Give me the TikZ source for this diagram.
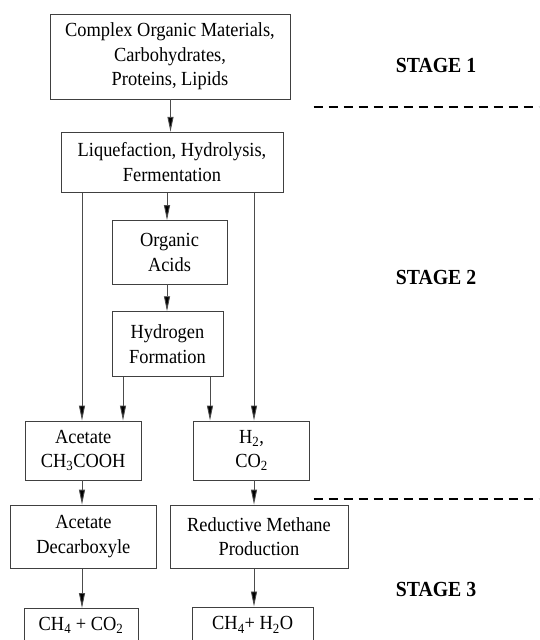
\documentclass[tikz,border=0pt]{standalone}
\usepackage{fontspec}
\setmainfont{Liberation Serif}[FakeStretch=0.92]
\usetikzlibrary{arrows.meta}
\tikzset{
  box/.style={draw=black!75, line width=0.9pt, align=center, inner sep=0pt,
    font=\fontsize{20}{24.5}\selectfont},
  arr/.style={draw=black!70, line width=0.9pt, -{Triangle[length=15pt,width=6pt,fill=black]}},
  sep/.style={draw=black, line width=1.8pt, dash pattern=on 9.5pt off 5.5pt},
  stagelbl/.style={font=\fontsize{21.5}{24}\selectfont\bfseries, inner sep=0pt}
}
\begin{document}
\begin{tikzpicture}[x=1pt,y=-1pt]
\useasboundingbox (0,0) rectangle (539,640);
\clip (0,0) rectangle (539,640);
\node[box, minimum width=240, minimum height=85] (b1) at (170,56.5)
  {Complex Organic Materials,\\Carbohydrates,\\Proteins, Lipids};
\node[box, minimum width=222, minimum height=60] (b2) at (172,162.3)
  {Liquefaction, Hydrolysis,\\Fermentation};
\node[box, minimum width=115, minimum height=63.3] (b3) at (169.5,252.3)
  {Organic\\Acids};
\node[box, minimum width=111, minimum height=65] (b4) at (167.5,344.2)
  {Hydrogen\\Formation};
\node[box, minimum width=115.6, minimum height=59] (b5) at (83.2,450.5)
  {Acetate\\CH\textsubscript{3}COOH};
\node[box, minimum width=116, minimum height=59] (b6) at (251.5,450.5)
  {H\textsubscript{2},\\CO\textsubscript{2}};
\node[box, minimum width=146, minimum height=63.3] (b7) at (83.4,536.7)
  {Acetate\\Decarboxyle};
\node[box, minimum width=178, minimum height=63.3] (b8) at (259,536.7)
  {Reductive Methane\\Production};
\node[box, anchor=north, minimum width=114, text height=22pt, text depth=30pt] (b9) at (81,608)
  {CH\textsubscript{4} + CO\textsubscript{2}};
\node[box, anchor=north, minimum width=120.5, text height=23pt, text depth=30pt] (b10) at (252.7,606.5)
  {CH\textsubscript{4}+ H\textsubscript{2}O};

\node[stagelbl] (s1) at (436,65) {STAGE 1};
\node[stagelbl] (s2) at (436,277) {STAGE 2};
\node[stagelbl] (s3) at (436,589) {STAGE 3};

\coordinate (d1a) at (313.5,107);
\coordinate (d1b) at (539,107);
\coordinate (d2a) at (313.5,499);
\coordinate (d2b) at (539,499);
\draw[sep] (d1a) -- (d1b);
\draw[sep] (d2a) -- (d2b);

\coordinate (xA) at (170.5,0);
\coordinate (xB) at (167,0);
\coordinate (xL) at (82,0);
\coordinate (xM) at (123,0);
\coordinate (xN) at (210,0);
\coordinate (xR) at (254,0);

\draw[arr] (b1.south -| xA) -- (b2.north -| xA);
\draw[arr] (b2.south -| xB) -- (b3.north -| xB);
\draw[arr] (b3.south -| xB) -- (b4.north -| xB);
\draw[arr] (b2.south -| xL) -- (b5.north -| xL);
\draw[arr] (b4.south -| xM) -- (b5.north -| xM);
\draw[arr] (b4.south -| xN) -- (b6.north -| xN);
\draw[arr] (b2.south -| xR) -- (b6.north -| xR);
\draw[arr] (b5.south -| xL) -- (b7.north -| xL);
\draw[arr] (b6.south -| xR) -- (b8.north -| xR);
\draw[arr] (b7.south -| xL) -- (b9.north -| xL);
\draw[arr] (b8.south -| xR) -- (b10.north -| xR);
\end{tikzpicture}
\end{document}
